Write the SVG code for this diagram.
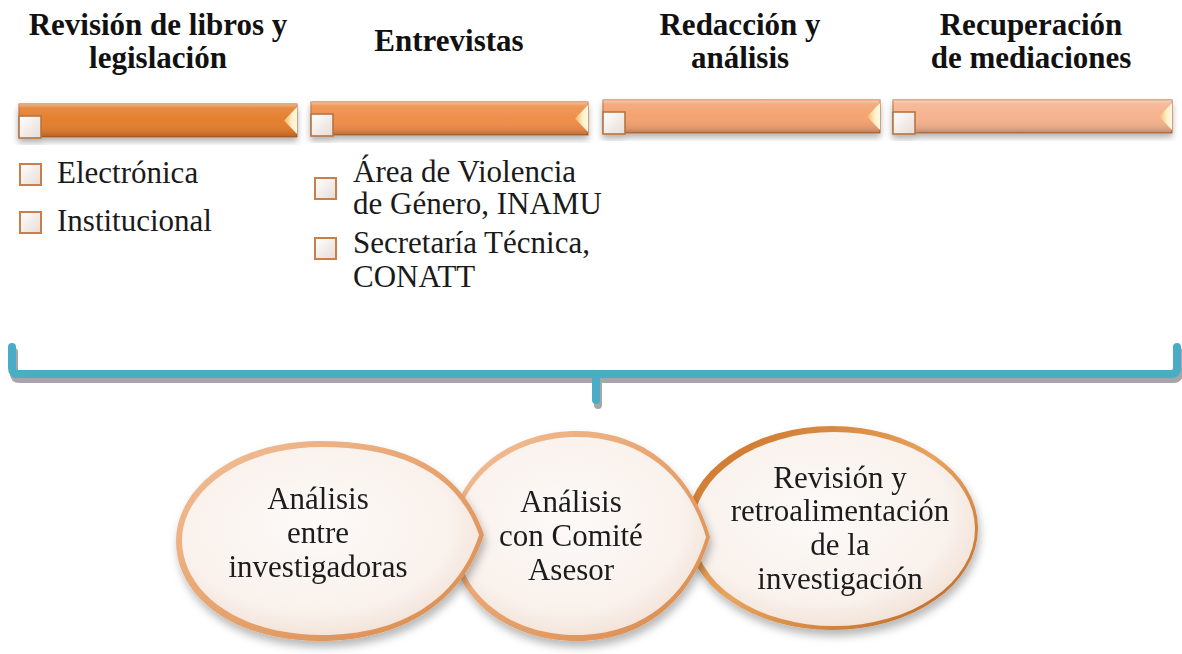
<svg xmlns="http://www.w3.org/2000/svg" width="1182" height="654" viewBox="0 0 1182 654">
<style>
.hd{font-family:"Liberation Serif","Times New Roman",serif;font-weight:bold;font-size:31px;fill:#111;text-anchor:middle}
.tx{font-family:"Liberation Serif","Times New Roman",serif;font-size:31px;fill:#1a1a1a}
.ct{font-family:"Liberation Serif","Times New Roman",serif;font-size:31px;fill:#1a1a1a;text-anchor:middle}
.bar{stroke:#B8652A;stroke-width:1}
.sq{fill:url(#sqg);stroke:#B87440;stroke-width:1.6}
.bul{fill:url(#sqg);stroke:#C8804A;stroke-width:2}
.wedge{fill:url(#wg)}
.br{fill:none;stroke-width:8;stroke-linecap:round;stroke-linejoin:round}
</style>
<defs>
<linearGradient id="gloss" x1="0" y1="0" x2="0" y2="1">
<stop offset="0" stop-color="#fff" stop-opacity="0.45"/>
<stop offset="0.12" stop-color="#fff" stop-opacity="0.1"/>
<stop offset="0.5" stop-color="#fff" stop-opacity="0"/>
<stop offset="0.85" stop-color="#000" stop-opacity="0.08"/>
<stop offset="1" stop-color="#000" stop-opacity="0.22"/>
</linearGradient>
<linearGradient id="sqg" x1="0" y1="0" x2="1" y2="1">
<stop offset="0" stop-color="#FFFFFF"/>
<stop offset="1" stop-color="#E6DCD6"/>
</linearGradient>
<linearGradient id="wg" x1="0" y1="0" x2="1" y2="0">
<stop offset="0" stop-color="#F3B565"/>
<stop offset="0.6" stop-color="#FFF0C8"/>
<stop offset="1" stop-color="#FFF8E0"/>
</linearGradient>
<radialGradient id="pale" cx="0.45" cy="0.42" r="0.62">
<stop offset="0" stop-color="#FDFAF8"/>
<stop offset="0.75" stop-color="#F9F1EC"/>
<stop offset="1" stop-color="#F1E0D4"/>
</radialGradient>
<linearGradient id="rim" x1="0" y1="0" x2="1" y2="1">
<stop offset="0" stop-color="#F2C09A"/>
<stop offset="0.45" stop-color="#E8A672"/>
<stop offset="1" stop-color="#D98A4C"/>
</linearGradient>
<linearGradient id="rim3" x1="0" y1="0" x2="1" y2="1">
<stop offset="0" stop-color="#C86E22"/>
<stop offset="0.5" stop-color="#E8A35E"/>
<stop offset="1" stop-color="#B8631F"/>
</linearGradient>
<filter id="sh" x="-10%" y="-10%" width="120%" height="130%">
<feDropShadow dx="0" dy="4" stdDeviation="3" flood-color="#000" flood-opacity="0.3"/>
</filter>
<filter id="shb" x="-10%" y="-10%" width="120%" height="130%">
<feDropShadow dx="2" dy="6" stdDeviation="4" flood-color="#000" flood-opacity="0.28"/>
</filter>
</defs>

<g id="h1"><text class="hd" x="158" y="35">Revisión de libros y</text><text class="hd" x="158" y="68">legislación</text></g>
<g id="h2"><text class="hd" x="449" y="51">Entrevistas</text></g>
<g id="h3"><text class="hd" x="740" y="35">Redacción y</text><text class="hd" x="740" y="68">análisis</text></g>
<g id="h4"><text class="hd" x="1031" y="35">Recuperación</text><text class="hd" x="1031" y="68">de mediaciones</text></g>

<g id="bar1" filter="url(#sh)">
<rect class="bar" x="19" y="104" width="278" height="33" fill="#E47F2E"/>
<rect x="19" y="104" width="278" height="33" fill="url(#gloss)"/>
<polygon class="wedge" points="297,107 284,120.5 297,134"/>
<rect class="sq" x="19" y="116" width="22" height="22"/>
</g>
<g id="bar2" filter="url(#sh)">
<rect class="bar" x="311" y="102" width="277" height="33" fill="#EF8E4B"/>
<rect x="311" y="102" width="277" height="33" fill="url(#gloss)"/>
<polygon class="wedge" points="588,105 575,118.5 588,132"/>
<rect class="sq" x="311" y="114" width="22" height="22"/>
</g>
<g id="bar3" filter="url(#sh)">
<rect class="bar" x="603" y="100" width="277" height="33" fill="#F3A371"/>
<rect x="603" y="100" width="277" height="33" fill="url(#gloss)"/>
<polygon class="wedge" points="880,103 867,116.5 880,130"/>
<rect class="sq" x="603" y="112" width="22" height="22"/>
</g>
<g id="bar4" filter="url(#sh)">
<rect class="bar" x="893" y="100" width="279" height="33" fill="#F6B38F"/>
<rect x="893" y="100" width="279" height="33" fill="url(#gloss)"/>
<polygon class="wedge" points="1172,103 1159,116.5 1172,130"/>
<rect class="sq" x="893" y="112" width="22" height="22"/>
</g>

<g id="list1">
<rect class="bul" x="20" y="164" width="21" height="21"/>
<text class="tx" x="57" y="183">Electrónica</text>
<rect class="bul" x="20" y="212" width="21" height="21"/>
<text class="tx" x="57" y="231">Institucional</text>
</g>
<g id="list2">
<rect class="bul" x="315" y="178" width="21" height="21"/>
<text class="tx" x="353" y="182">Área de Violencia</text>
<text class="tx" x="353" y="214">de Género, INAMU</text>
<rect class="bul" x="315" y="238" width="21" height="21"/>
<text class="tx" x="353" y="253">Secretaría Técnica,</text>
<text class="tx" x="353" y="287">CONATT</text>
</g>

<g id="connectors">
<g transform="translate(2,5)" stroke="#A6A6A6">
<path class="br" d="M12 347 V368 Q12 374 18 374 H1171 Q1177 374 1177 368 V347"/>
<path class="br" d="M596 374 V400"/>
</g>
<g stroke="#4BACC6">
<path class="br" d="M12 347 V368 Q12 374 18 374 H1171 Q1177 374 1177 368 V347"/>
<path class="br" d="M596 374 V400"/>
</g>
</g>

<g id="c3" filter="url(#shb)">
<ellipse cx="832" cy="528" rx="146" ry="102" fill="url(#rim3)"/>
<ellipse cx="834" cy="529" rx="141" ry="97" fill="url(#pale)"/>
<text class="ct" x="840" y="488">Revisión y</text>
<text class="ct" x="840" y="521">retroalimentación</text>
<text class="ct" x="840" y="555">de la</text>
<text class="ct" x="840" y="589">investigación</text>
</g>
<g id="c2" filter="url(#shb)">
<path d="M710 537 C690 468 640 431 577 431 C505 431 451 480 451 537 C451 596 505 641 577 641 C640 641 690 604 710 537 Z" fill="url(#rim)"/>
<path d="M706 537 C687 472 638 437 577 437 C508 437 456 482 456 536 C456 592 508 635 577 635 C638 635 687 600 706 537 Z" fill="url(#pale)"/>
<text class="ct" x="571" y="512">Análisis</text>
<text class="ct" x="571" y="546">con Comité</text>
<text class="ct" x="571" y="580">Asesor</text>
</g>
<g id="c1" filter="url(#shb)">
<path d="M484 535 C462 468 402 441 320 441 C232 441 176 490 176 541 C176 596 232 641 320 641 C402 641 462 602 484 535 Z" fill="url(#rim)"/>
<path d="M479 535 C458 473 400 447 322 447 C238 447 182 493 182 540 C182 592 238 635 322 635 C400 635 458 600 479 535 Z" fill="url(#pale)"/>
<text class="ct" x="318" y="509">Análisis</text>
<text class="ct" x="318" y="543">entre</text>
<text class="ct" x="318" y="577">investigadoras</text>
</g>
</svg>
